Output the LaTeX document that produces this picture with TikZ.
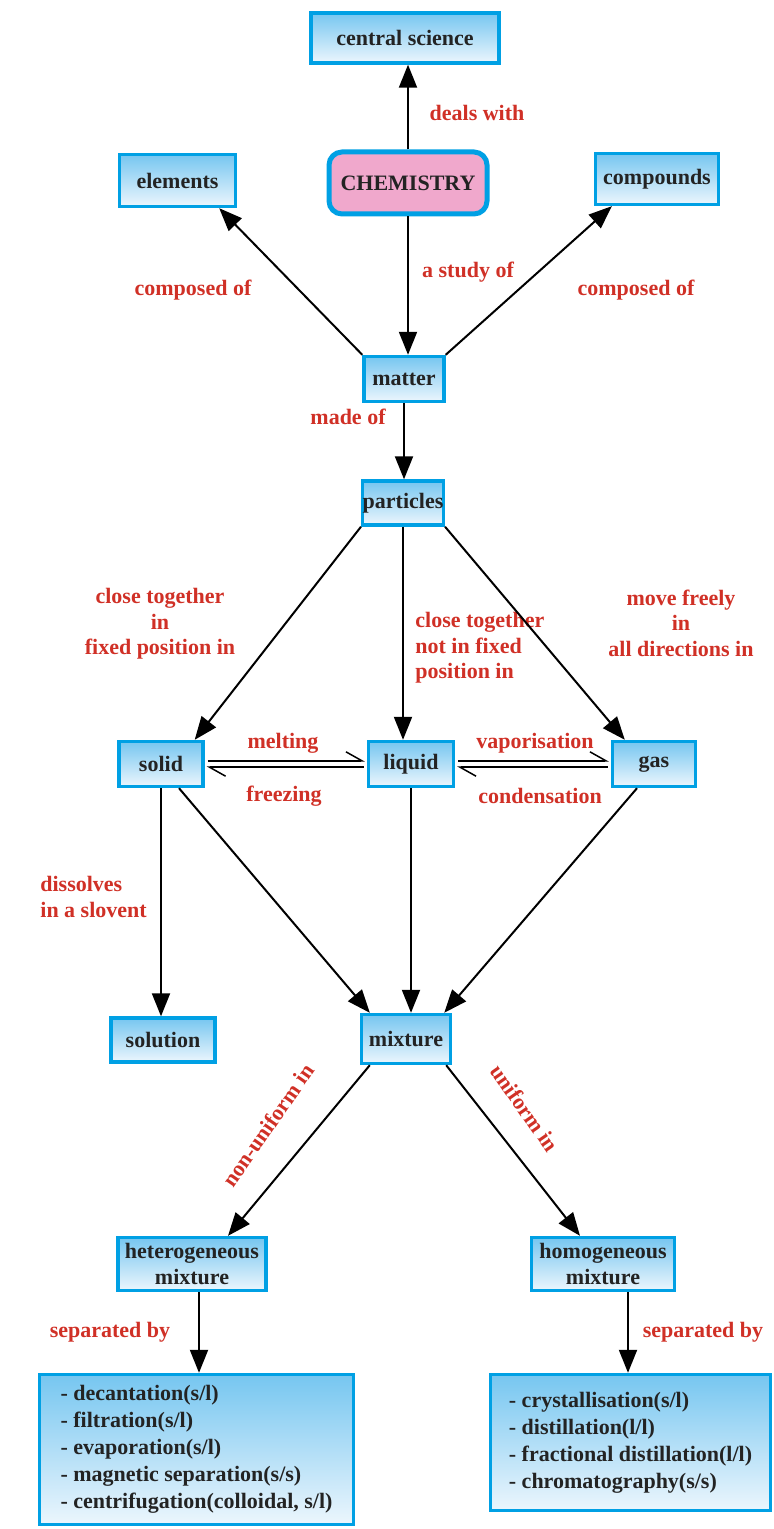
\documentclass[tikz,border=0pt]{standalone}
\usepackage{fontspec}
\setmainfont{Liberation Serif}
\usetikzlibrary{arrows.meta,calc}
\definecolor{bxblue}{RGB}{0,160,228}
\definecolor{bxtop}{RGB}{118,198,240}
\definecolor{bxbot}{RGB}{236,246,253}
\definecolor{lblred}{RGB}{208,48,38}
\definecolor{chempink}{RGB}{240,168,204}
\definecolor{txt}{RGB}{35,35,35}
\begin{document}
\begin{tikzpicture}[x=0.5pt,y=-0.5pt,
 box/.style={draw=bxblue, line width=1.7pt, top color=bxtop, bottom color=bxbot, text=txt,
   font=\fontsize{11}{13}\selectfont\bfseries, inner sep=0pt, align=center},
 listbox/.style={box, font=\fontsize{11}{13.5}\selectfont\bfseries, align=left},
 lbl/.style={text=lblred, font=\fontsize{11}{12.8}\selectfont\bfseries, inner sep=0pt},
 arr/.style={line width=1pt, -{Triangle[length=11.5pt,width=9pt]}},
 harp/.style={line width=0.75pt, shorten <=1.5pt, shorten >=1pt,
   -{Straight Barb[harpoon,length=8pt,width=9pt,line width=0.75pt]}}
]
\useasboundingbox (0,0) rectangle (773,1529);

% boxes
\node[box, minimum width=94pt, minimum height=25pt] (cs) at (405,38) {central science};
\node[draw=bxblue, line width=2.5pt, fill=chempink, rounded corners=6.5pt, minimum width=79pt,
  minimum height=31pt, text=txt, font=\fontsize{11}{13}\selectfont\bfseries, inner sep=0pt] (chem) at (408,183) {CHEMISTRY};
\node[box, minimum width=58pt, minimum height=26pt] (elements) at (177.5,180.5) {elements};
\node[box, minimum width=61.5pt, minimum height=25.5pt] (compounds) at (657,179) {compounds};
\node[box, minimum width=40pt, minimum height=22.5pt] (matter) at (404,379) {matter};
\node[box, minimum width=39pt, minimum height=22pt] (particles) at (403,503) {particles};
\node[box, minimum width=42pt, minimum height=22.5pt] (solid) at (161,764) {solid};
\node[box, minimum width=42.5pt, minimum height=22.5pt] (liquid) at (411,764) {liquid};
\node[box, minimum width=41.5pt, minimum height=22.5pt] (gas) at (654,764) {gas};
\node[box, minimum width=52pt, minimum height=22pt] (solution) at (163,1040) {solution};
\node[box, minimum width=44.5pt, minimum height=24.5pt] (mixture) at (406,1039) {mixture};
\node[box, minimum width=74pt, minimum height=26.5pt] (het) at (192,1264) {heterogeneous\\mixture};
\node[box, minimum width=71.5pt, minimum height=26.5pt] (hom) at (603,1264) {homogeneous\\mixture};
\node[listbox, minimum width=157pt, minimum height=75pt] (lbox) at (196.5,1449.5)
  {- decantation(s/l)\\- filtration(s/l)\\- evaporation(s/l)\\- magnetic separation(s/s)\\- centrifugation(colloidal, s/l)};
\node[listbox, minimum width=140pt, minimum height=68pt] (rbox) at (630.5,1442.5)
  {- crystallisation(s/l)\\- distillation(l/l)\\- fractional distillation(l/l)\\- chromatography(s/s)};

% labels
\node[lbl] (ldeals) at (477,113) {deals with};
\node[lbl] (lstudy) at (468,272) {a study of};
\node[lbl] (lcompl) at (193,290) {composed of};
\node[lbl] (lcompr) at (636,290) {composed of};
\node[lbl] (lmade) at (348,417) {made of};
\node[lbl, align=center] (lclose) at (160,624) {close together\\in\\fixed position in};
\node[lbl, align=left, anchor=west] (lnot) at (415,648) {close together\\not in fixed\\position in};
\node[lbl, align=center] (lmove) at (681,623) {move freely\\in\\all directions in};
\node[lbl] (lmelt) at (283,743) {melting};
\node[lbl] (lfreeze) at (284,796) {freezing};
\node[lbl] (lvap) at (535,743) {vaporisation};
\node[lbl] (lcond) at (540,796) {condensation};
\node[lbl, align=left, anchor=west] (ldiss) at (40,897) {dissolves\\in a slovent};
\node[lbl, rotate=55] (lnonu) at (268,1125) {non-uniform in};
\node[lbl, rotate=-55] (lunif) at (525,1108) {uniform in};
\node[lbl] (lsepl) at (110,1332) {separated by};
\node[lbl] (lsepr) at (703,1332) {separated by};

% connectors
\draw[arr] (chem.north) -- (chem.north |- cs.south);
\draw[arr] (chem.south) -- (chem.south |- matter.north);
\draw[arr] (matter.north west) -- ([xshift=-9pt]elements.south east);
\draw[arr] (matter.north east) -- ([xshift=9pt]compounds.south west);
\draw[arr] (matter.south) -- (matter.south |- particles.north);
\draw[arr] (particles.south west) -- ([xshift=-5pt]solid.north east);
\draw[arr] (particles.south) -- (particles.south |- liquid.north);
\draw[arr] (particles.south east) -- ([xshift=7pt]gas.north west);
\draw[harp] ([yshift=1.6pt]solid.east) -- ([yshift=1.6pt]liquid.west);
\draw[harp] ([yshift=-1.6pt]liquid.west) -- ([yshift=-1.6pt]solid.east);
\draw[harp] ([yshift=1.6pt]liquid.east) -- ([yshift=1.6pt]gas.west);
\draw[harp] ([yshift=-1.6pt]gas.west) -- ([yshift=-1.6pt]liquid.east);
\draw[arr] (solid.south) -- (solid.south |- solution.north);
\draw[arr] ([xshift=9pt]solid.south) -- ([xshift=5pt]mixture.north west);
\draw[arr] (liquid.south) -- (liquid.south |- mixture.north);
\draw[arr] ([xshift=-8.5pt]gas.south) -- ([xshift=-4pt]mixture.north east);
\draw[arr] ([xshift=5pt]mixture.south west) -- ([xshift=18pt]het.north);
\draw[arr] ([xshift=-3pt]mixture.south east) -- ([xshift=-11.5pt]hom.north);
\draw[arr] ([xshift=3.5pt]het.south) -- ([xshift=3.5pt]het.south |- lbox.north);
\draw[arr] ([xshift=12.5pt]hom.south) -- ([xshift=12.5pt]hom.south |- rbox.north);
\end{tikzpicture}
\end{document}
